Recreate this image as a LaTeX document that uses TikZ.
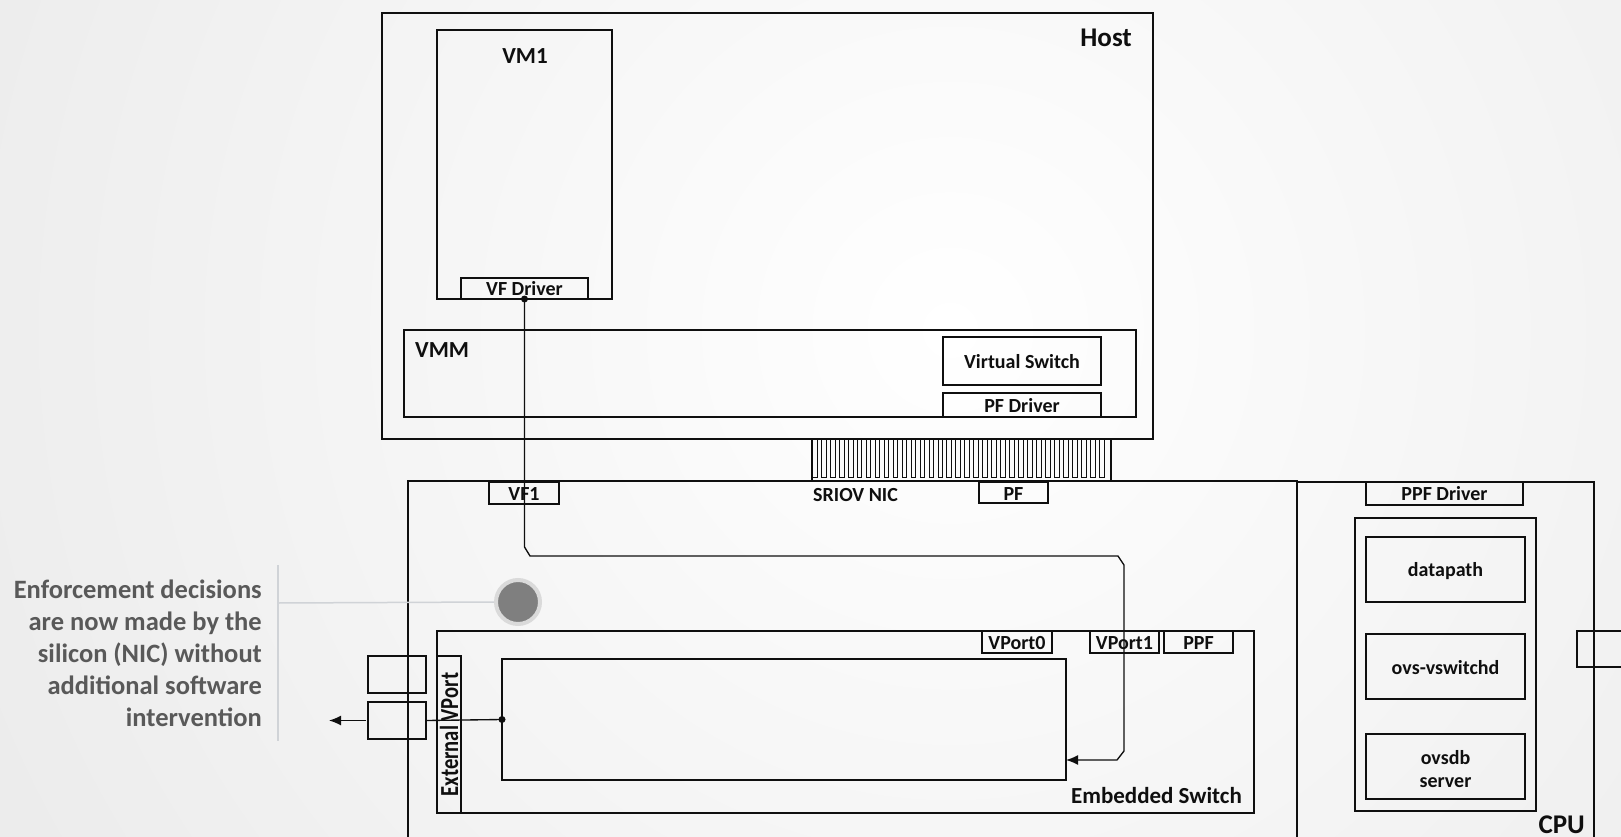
\documentclass[tikz,border=0pt]{standalone}
\usepackage{fontspec}
\setmainfont{Carlito}
\usetikzlibrary{arrows.meta,calc}
\definecolor{bggray}{RGB}{236,236,236}
\definecolor{anngray}{RGB}{89,89,89}
\definecolor{linegray}{RGB}{208,211,215}
\definecolor{dotgray}{RGB}{127,127,127}
\definecolor{ringgray}{RGB}{218,218,218}
\definecolor{ink}{RGB}{15,15,15}
\newcommand\mybox[5]{\node[box,minimum width=#4pt,minimum height=#5pt] (#1) at (#2,#3) {};}
\begin{document}
\begin{tikzpicture}[x=1pt,y=-1pt,
  box/.style={draw=ink,line width=1.35pt,inner sep=0pt,outer sep=0pt,anchor=north west},
  lbl/.style={inner sep=0pt,text=ink,font=\bfseries\fontsize{20}{23}\selectfont},
  lblbig/.style={inner sep=0pt,text=ink,font=\bfseries\fontsize{23}{27}\selectfont},
  lblhuge/.style={inner sep=0pt,text=ink,font=\bfseries\fontsize{27}{31}\selectfont},
  conn/.style={draw=ink,line width=1.35pt},
  tip/.style={-{Latex[length=12pt,width=10pt]}},
  tooth/.style={draw=ink,line width=0.75pt},
  annline/.style={draw=linegray,line width=1.5pt}]
\useasboundingbox (0,0) rectangle (1621,837);
\clip (0,0) rectangle (1621,837);
\fill[bggray] (0,0) rectangle (1621,837);
\shade[inner color=white,outer color=bggray] (950,330) circle (1050pt);

% Host side
\mybox{host}{382}{13}{771}{426}
\mybox{vmone}{437}{30}{175}{269}
\mybox{vfdrv}{461}{278}{127}{21}
\mybox{vmm}{404}{330}{732}{87}
\mybox{vsw}{943}{337}{158}{48}
\mybox{pfdrv}{943}{393}{158}{24}
\node[lblhuge,anchor=base east] (hostl) at (1132,47) {Host};
\node[lblbig,anchor=base] (vmonel) at (525,64) {VM1};
\node[lblbig,anchor=base west] (vmml) at (415,357) {VMM};
\node[lbl,anchor=base] (vswl) at (1022,368) {Virtual Switch};
\node[lbl,anchor=base] (pfdrvl) at (1022,412) {PF Driver};
\node[lbl,anchor=base] (vfdrvl) at (524.5,295.5) {VF Driver};

% NIC connector comb
\mybox{comb}{812}{439}{299}{42}
\foreach \i in {0,...,32}
  \draw[tooth] ({812.3+8.97*\i},439) rectangle ++(4.7,38);

% NIC
\mybox{nic}{408}{481}{889}{420}
\mybox{vfone}{489}{482}{70}{22}
\mybox{pf}{979}{482}{69}{21}
\node[lbl,anchor=base] (vfonel) at (524,500) {VF1};
\node[lbl,anchor=base] (pfl) at (1013.5,500.5) {PF};
\node[lbl,anchor=base west] (nicl) at (813,501) {SRIOV NIC};

% Embedded switch
\mybox{embsw}{437}{631}{817}{182}
\mybox{extvp}{437}{656}{24}{157}
\mybox{vportz}{982}{631}{70}{22}
\mybox{vporto}{1090}{631}{69}{22}
\mybox{ppf}{1164}{631}{69}{22}
\mybox{inner}{502}{659}{564}{121}
\node[lbl,anchor=base] (vportzl) at (1017,649.5) {VPort0};
\node[lbl,anchor=base] (vportol) at (1124.5,649.5) {VPort1};
\node[lbl,anchor=base] (ppfl) at (1198.5,649.5) {PPF};
\node[lblbig,anchor=base east] (embswl) at (1242,803) {Embedded Switch};
\node[lbl,rotate=90] (extvpl) at (extvp.center) {\scalebox{1.03}[1.3]{External VPort}};

% left external boxes
\mybox{lbone}{368}{656}{58}{37}
\mybox{lbtwo}{368}{702}{58}{37}
\coordinate (extout) at (329,720.5);

% CPU
\mybox{cpu}{1297}{482}{297}{420}
\mybox{ppfdrv}{1366}{482}{157}{23}
\mybox{cpuin}{1355}{518}{181}{293}
\mybox{dp}{1366}{537}{159}{65}
\mybox{ovsd}{1366}{634}{159}{65}
\mybox{ovsdb}{1366}{734}{159}{65}
\mybox{rbox}{1577}{631}{80}{36}
\node[lbl,anchor=base] (ppfdrvl) at (1444.5,500.5) {PPF Driver};
\node[lbl,anchor=base] (dpl) at (1445.5,576) {datapath};
\node[lbl,anchor=base] (ovsdl) at (1445.5,674) {ovs-vswitchd};
\node[lbl,align=center] (ovsdbl) at ([yshift=-3pt]ovsdb.center) {ovsdb\\server};
\node[lblhuge,anchor=base east] (cpul) at (1585,833) {CPU};

% connectors
\draw[conn,tip] (vfdrv.south) -- (524.5,547) -- (530,556) -- (1118,556) -- (1124,565)
   -- (1124,751) -- (1117,760) -- (inner.east |- 0,760);
\fill[ink] (vfdrv.south) circle (3.5pt);
\draw[conn] (lbtwo.east) -- (inner.west);
\fill[ink] (inner.west) circle (3.5pt);
\draw[conn,tip] ([xshift=-2pt]lbtwo.west) -- (extout);

% annotation
\node[circle,fill=dotgray,draw=ringgray,line width=4pt,minimum size=44pt,inner sep=0pt] (enf) at (518,602) {};
\coordinate (annTop) at (278,565);
\coordinate (annBot) at (278,741);
\coordinate (annMid) at (278,603);
\draw[annline] (annTop) -- (annBot);
\draw[annline] (annMid) -- (enf.west);
\node[anchor=base east,align=right,inner sep=0pt,text=anngray,
      font=\bfseries\fontsize{26.5}{32}\selectfont] (ann) at (262,726)
  {Enforcement decisions\\are now made by the\\silicon (NIC) without\\additional software\\intervention};
\end{tikzpicture}
\end{document}
